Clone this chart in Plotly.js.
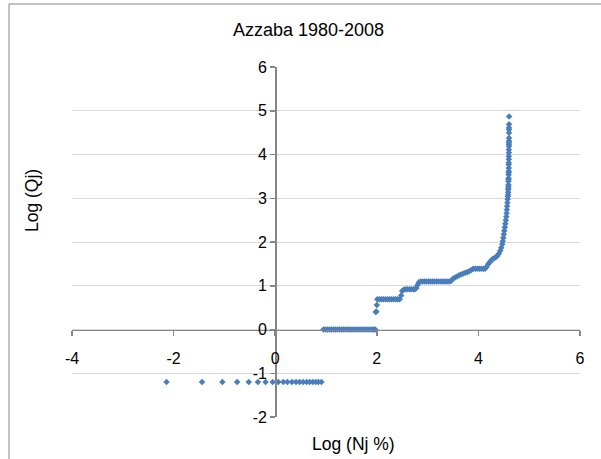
<!DOCTYPE html>
<html>
<head>
<meta charset="utf-8">
<script src="https://cdn.plot.ly/plotly-3.0.1.min.js"></script>
<style>html,body{margin:0;padding:0;background:#fff;overflow:hidden}</style>
</head>
<body>
<div id="chart" style="width:601px;height:459px"></div>
<script>
// Values: x = Log (Nj %), y = Log (Qj)
var seg1N = [-2.14, -1.44, -1.04, -0.75, -0.52, -0.34, -0.19, -0.05, 0.06, 0.16, 0.24, 0.33, 0.41, 0.48, 0.55, 0.62, 0.68, 0.74, 0.80, 0.85, 0.91];
var seg1Q = [-1.2, -1.2, -1.2, -1.2, -1.2, -1.2, -1.2, -1.2, -1.2, -1.2, -1.2, -1.2, -1.2, -1.2, -1.2, -1.2, -1.2, -1.2, -1.2, -1.2, -1.2];

var seg2N = [0.95, 0.99, 1.03, 1.07, 1.11, 1.15, 1.19, 1.23, 1.27, 1.31, 1.35, 1.39, 1.43, 1.47, 1.51, 1.55, 1.59, 1.63, 1.67, 1.71, 1.75, 1.79, 1.83, 1.87, 1.91, 1.94, 1.97];
var seg2Q = [0, 0, 0, 0, 0, 0, 0, 0, 0, 0, 0, 0, 0, 0, 0, 0, 0, 0, 0, 0, 0, 0, 0, 0, 0, 0, 0];

var seg3N = [1.98, 1.99, 2.00, 2.01, 2.05, 2.09, 2.13, 2.17, 2.21, 2.25, 2.29, 2.33, 2.37, 2.41, 2.45, 2.48, 2.50, 2.53, 2.56, 2.60, 2.64, 2.68, 2.72, 2.75, 2.78, 2.80, 2.83];
var seg3Q = [0.40, 0.41, 0.56, 0.69, 0.69, 0.69, 0.69, 0.69, 0.69, 0.69, 0.69, 0.69, 0.69, 0.69, 0.69, 0.78, 0.88, 0.91, 0.92, 0.92, 0.92, 0.92, 0.92, 0.92, 0.95, 1.02, 1.08];

var seg4N = [2.86, 2.90, 2.94, 2.98, 3.02, 3.06, 3.10, 3.14, 3.18, 3.22, 3.26, 3.30, 3.34, 3.38, 3.42, 3.46, 3.50, 3.54, 3.58, 3.62, 3.66, 3.70, 3.74, 3.78, 3.82, 3.86, 3.90];
var seg4Q = [1.10, 1.10, 1.10, 1.10, 1.10, 1.10, 1.10, 1.10, 1.10, 1.10, 1.10, 1.10, 1.10, 1.10, 1.10, 1.11, 1.16, 1.19, 1.21, 1.24, 1.26, 1.28, 1.30, 1.31, 1.33, 1.36, 1.39];

var seg5N = [3.94, 3.98, 4.02, 4.06, 4.10, 4.13, 4.16, 4.19, 4.22, 4.25, 4.28, 4.31, 4.34, 4.37, 4.40, 4.43, 4.45, 4.47, 4.48, 4.49, 4.50, 4.51, 4.52, 4.53, 4.54, 4.55, 4.555, 4.56, 4.565, 4.57, 4.575, 4.58];
var seg5Q = [1.39, 1.39, 1.39, 1.39, 1.39, 1.39, 1.43, 1.49, 1.53, 1.58, 1.61, 1.63, 1.65, 1.68, 1.73, 1.80, 1.87, 1.95, 2.02, 2.10, 2.18, 2.26, 2.34, 2.42, 2.50, 2.58, 2.66, 2.74, 2.82, 2.90, 2.98, 3.04];

var seg6N = [4.584, 4.586, 4.588, 4.589, 4.590, 4.591, 4.592, 4.593, 4.594, 4.595, 4.596, 4.597, 4.597, 4.598, 4.598, 4.599, 4.599, 4.600, 4.600, 4.601, 4.601, 4.601, 4.602, 4.602, 4.603, 4.603, 4.603, 4.604, 4.605];
var seg6Q = [3.08, 3.14, 3.20, 3.23, 3.27, 3.31, 3.39, 3.43, 3.46, 3.54, 3.59, 3.62, 3.69, 3.77, 3.81, 3.89, 3.96, 4.04, 4.11, 4.19, 4.23, 4.27, 4.31, 4.38, 4.50, 4.57, 4.61, 4.69, 4.87];

var xTicks = [-4, -2, 0, 2, 4, 6];
var yTicks = [-2, -1, 0, 1, 2, 3, 4, 5, 6];

var chartTitle = 'Azzaba 1980-2008';
var xTitle = 'Log (Nj %)';
var yTitle = 'Log (Qj)';

var logN = [].concat(seg1N, seg2N, seg3N, seg4N, seg5N, seg6N);
var logQ = [].concat(seg1Q, seg2Q, seg3Q, seg4Q, seg5Q, seg6Q);

var FONT = 'Liberation Sans, Arial, sans-serif';
var AXC = '#868686';

var trace = {
  type: 'scatter', mode: 'markers', x: logN, y: logQ,
  marker: {symbol: 'diamond', size: 5, color: '#4a7ebb', line: {width: 0}},
  hoverinfo: 'x+y', showlegend: false
};

var layout = {
  width: 601, height: 459,
  margin: {l: 72, r: 21, t: 67, b: 42, pad: 0},
  paper_bgcolor: '#ffffff', plot_bgcolor: '#ffffff',
  font: {family: FONT, size: 16, color: '#000000'},
  showlegend: false,
  xaxis: {
    range: [-4, 6], tickvals: xTicks, ticktext: xTicks.map(String),
    showgrid: false, zeroline: false,
    showline: true, linecolor: AXC, linewidth: 1.5,
    ticks: 'outside', ticklen: 5, tickwidth: 1.5, tickcolor: AXC,
    anchor: 'free', position: 0.25, ticklabelstandoff: 9,
    tickfont: {family: FONT, size: 16, color: '#000'}
  },
  yaxis: {
    range: [-2, 6], tickvals: yTicks, ticktext: yTicks.map(String),
    showgrid: true, gridcolor: '#d9d9d9', gridwidth: 1, zeroline: false,
    showline: true, linecolor: AXC, linewidth: 1.5,
    ticks: 'outside', ticklen: 5, tickwidth: 1.5, tickcolor: AXC,
    anchor: 'free', position: 0.4,
    tickfont: {family: FONT, size: 16, color: '#000'}
  },
  annotations: [
    {text: chartTitle, xref: 'paper', yref: 'paper', x: 0.4646, y: 1.106, xanchor: 'center', yanchor: 'middle', showarrow: false, font: {family: FONT, size: 18, color: '#000'}},
    {text: xTitle, xref: 'paper', yref: 'paper', x: 0.555, y: -0.077, xanchor: 'center', yanchor: 'middle', showarrow: false, font: {family: FONT, size: 17.5, color: '#000'}},
    {text: yTitle, xref: 'paper', yref: 'paper', x: -0.0787, y: 0.617, xanchor: 'center', yanchor: 'middle', textangle: -90, showarrow: false, font: {family: FONT, size: 17.5, color: '#000'}}
  ],
  shapes: [
    {type: 'line', xref: 'paper', yref: 'paper', x0: -0.124, y0: 1.18, x1: 1.2, y1: 1.18, line: {color: AXC, width: 1}},
    {type: 'line', xref: 'paper', yref: 'paper', x0: -0.124, y0: 1.18, x1: -0.124, y1: -0.2, line: {color: AXC, width: 1}}
  ]
};

Plotly.newPlot('chart', [trace], layout, {staticPlot: true, displayModeBar: false});
</script>
</body>
</html>
